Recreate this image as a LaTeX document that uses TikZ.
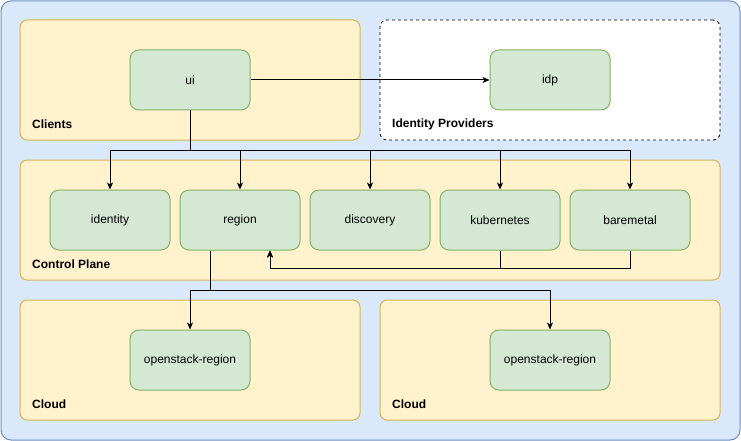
\documentclass[tikz,border=0pt]{standalone}
\usepackage{fontspec}
\setmainfont{Liberation Sans}
\usetikzlibrary{arrows.meta}
\definecolor{bluefill}{HTML}{DAE8FC}
\definecolor{bluestroke}{HTML}{6C8EBF}
\definecolor{yelfill}{HTML}{FFF2CC}
\definecolor{yelstroke}{HTML}{D6B656}
\definecolor{grnfill}{HTML}{D5E8D4}
\definecolor{grnstroke}{HTML}{82B366}
\tikzset{
  outerbox/.style={draw=bluestroke, fill=bluefill, rounded corners=10pt, line width=1pt},
  container/.style={draw=yelstroke, fill=yelfill, rounded corners=7pt, line width=1pt, minimum width=340pt, minimum height=120pt, inner sep=0pt},
  idpbox/.style={draw=black, fill=white, dashed, rounded corners=7pt, line width=0.8pt, minimum width=340pt, minimum height=120pt, inner sep=0pt},
  svc/.style={draw=grnstroke, fill=grnfill, rounded corners=9pt, line width=1pt, minimum width=120pt, minimum height=60pt, inner sep=0pt, font=\fontsize{12}{14}\selectfont},
  grp/.style={anchor=west, font=\fontsize{12}{14}\selectfont\bfseries, inner sep=0pt},
  conn/.style={draw=black, line width=1pt, -{Stealth[length=7pt,width=6pt,inset=2pt]}},
}
\begin{document}
\begin{tikzpicture}[x=1pt,y=-1pt]
\useasboundingbox (0,0) rectangle (741,441);
\node[outerbox, minimum width=739pt, minimum height=439pt, inner sep=0pt] (outer) at (370.5,220.5) {};
% containers
\node[container] (clients) at (190,80) {};
\node[idpbox] (idps) at (550,80) {};
\node[container, minimum width=700pt] (cp) at (370,220) {};
\node[container] (cloud1) at (190,360) {};
\node[container] (cloud2) at (550,360) {};
% group labels
\node[grp] (lclients) at (32,124) {Clients};
\node[grp] (lidps) at (392,124) {Identity Providers};
\node[grp] (lcp) at (32,264) {Control Plane};
\node[grp] (lcloud1) at (32,404) {Cloud};
\node[grp] (lcloud2) at (392,404) {Cloud};
% services
\node[svc] (ui) at (190,80) {ui};
\node[svc] (idp) at (550,80) {idp};
\node[svc] (identity) at (110,220) {identity};
\node[svc] (region) at (240,220) {region};
\node[svc] (discovery) at (370,220) {discovery};
\node[svc] (kubernetes) at (500,220) {kubernetes};
\node[svc] (baremetal) at (630,220) {baremetal};
\node[svc] (os1) at (190,360) {openstack-region};
\node[svc] (os2) at (550,360) {openstack-region};
% connectors
\draw[conn] (ui.east) -- (idp.west);
\foreach \t in {identity,region,discovery,kubernetes,baremetal}
  \draw[conn] (ui.south) -- ++(0,40) -| (\t.north);
\draw[conn] ([xshift=-30pt]region.south) -- ++(0,40) -| (os1.north);
\draw[conn] ([xshift=-30pt]region.south) -- ++(0,40) -| (os2.north);
\draw[conn] (kubernetes.south) -- ++(0,18) -| ([xshift=30pt]region.south);
\draw[conn] (baremetal.south) -- ++(0,18) -| ([xshift=30pt]region.south);
\end{tikzpicture}
\end{document}
